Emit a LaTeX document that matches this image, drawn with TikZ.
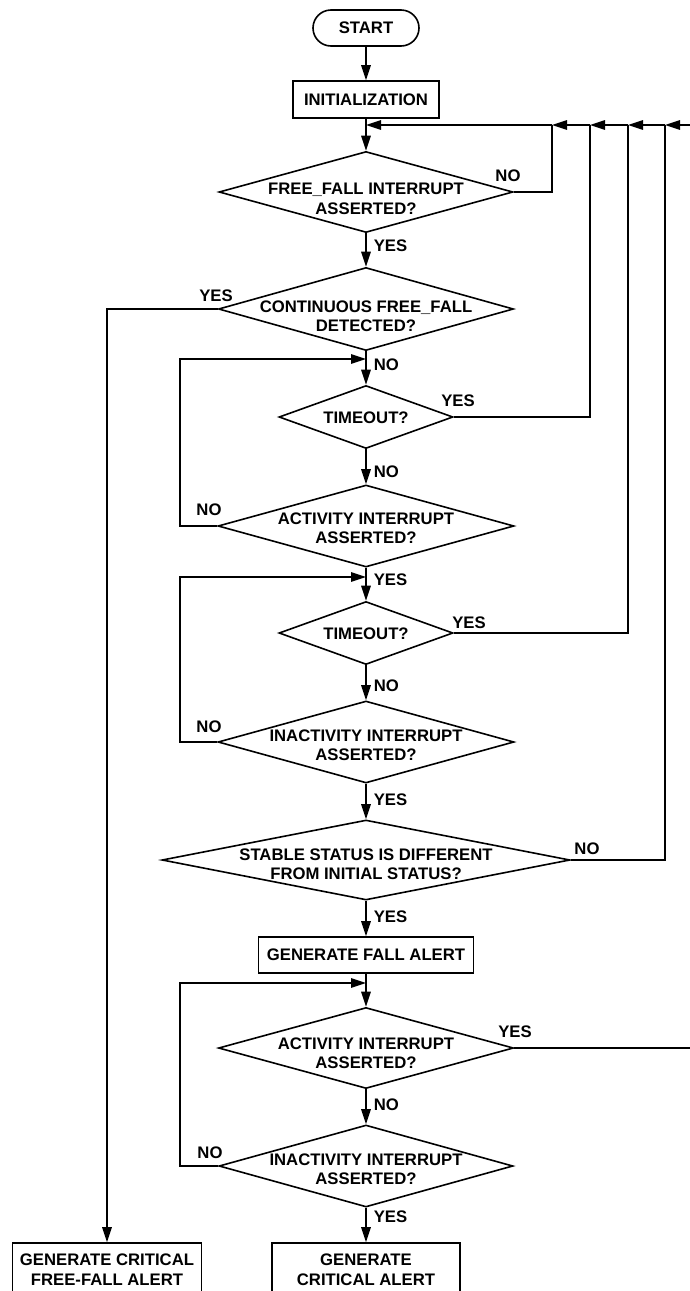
\documentclass[tikz,border=0pt]{standalone}
\usepackage{fontspec}
\setmainfont{Liberation Sans}
\usetikzlibrary{shapes.geometric,arrows.meta}
\begin{document}
\begin{tikzpicture}[x=1pt,y=-1pt,
  line width=1.6pt,
  txt/.style={font=\fontsize{16.7}{19.5}\selectfont\bfseries, align=center, inner sep=0pt},
  lbl/.style={font=\fontsize{16.7}{19}\selectfont\bfseries, inner sep=0pt},
  dec/.style={diamond, draw, line width=1.6pt, inner sep=0pt, minimum width=#1},
  dh/.style={minimum height=#1},
  box/.style={rectangle, draw, line width=1.6pt, inner sep=0pt},
  arr/.style={-{Triangle[length=15pt,width=9.5pt]}},
]
\useasboundingbox (0,0) rectangle (690,1291);
\clip (0,0) rectangle (690,1291);

% ---- process boxes ----
\node[box, txt, rounded corners=18pt, minimum width=106pt, minimum height=36pt] (start) at (366,28) {START};
\node[box, txt, minimum width=146pt, minimum height=37pt] (init) at (366,99.5) {INITIALIZATION};
\node[box, txt, minimum width=215pt, minimum height=36pt] (fall) at (366,955) {GENERATE FALL ALERT};
\node[box, txt, minimum width=189pt, minimum height=53pt] (critff) at (107,1269.5) {GENERATE CRITICAL\\FREE-FALL ALERT};
\node[box, txt, minimum width=188pt, minimum height=53pt] (crit) at (366,1269.5) {GENERATE\\CRITICAL ALERT};

% ---- decisions ----
\node[dec=294pt, dh=81pt] (ff) at (366,192) {};
\node[txt] (fft) at (366,199) {FREE\_FALL INTERRUPT\\ASSERTED?};
\node[dec=295pt, dh=83pt] (cont) at (366,309) {};
\node[txt] (contt) at (366,316) {CONTINUOUS FREE\_FALL\\DETECTED?};
\node[dec=174pt, dh=63pt] (t1) at (366,417) {};
\node[txt] (t1t) at (366,418) {TIMEOUT?};
\node[dec=296pt, dh=82pt] (act1) at (366,526) {};
\node[txt] (act1t) at (366,528) {ACTIVITY INTERRUPT\\ASSERTED?};
\node[dec=174pt, dh=63pt] (t2) at (366,633) {};
\node[txt] (t2t) at (366,634) {TIMEOUT?};
\node[dec=296pt, dh=82pt] (inact1) at (366,742) {};
\node[txt] (inact1t) at (366,745) {INACTIVITY INTERRUPT\\ASSERTED?};
\node[dec=408pt, dh=80pt] (stable) at (366,860) {};
\node[txt] (stablet) at (366,864) {STABLE STATUS IS DIFFERENT\\FROM INITIAL STATUS?};
\node[dec=295pt, dh=81pt] (act2) at (366,1048) {};
\node[txt] (act2t) at (366,1053) {ACTIVITY INTERRUPT\\ASSERTED?};
\node[dec=294pt, dh=82pt] (inact2) at (366,1166) {};
\node[txt] (inact2t) at (366,1169) {INACTIVITY INTERRUPT\\ASSERTED?};

% ---- junctions of the return bus ----
\coordinate (jin) at (366,125);
\coordinate (j1) at (552,125);
\coordinate (j2) at (590,125);
\coordinate (j3) at (628,125);
\coordinate (j4) at (665,125);
\coordinate (jr) at (700,125);
\coordinate (l1) at (366,359);
\coordinate (l2) at (366,577);
\coordinate (l3) at (366,983);

% ---- main flow ----
\draw[arr] (start) -- (init);
\draw[arr] (init) -- (ff);
\draw[arr] (ff) -- (cont);
\draw[arr] (cont) -- (t1);
\draw[arr] (t1) -- (act1);
\draw[arr] (act1) -- (t2);
\draw[arr] (t2) -- (inact1);
\draw[arr] (inact1) -- (stable);
\draw[arr] (stable) -- (fall);
\draw[arr] (fall) -- (act2);
\draw[arr] (act2) -- (inact2);
\draw[arr] (inact2) -- (crit);
\draw[arr] (cont.west) -| (critff.north);

% ---- return bus ----
\draw[arr] (j1) -- (jin);
\draw[arr] (j2) -- (j1);
\draw[arr] (j3) -- (j2);
\draw[arr] (j4) -- (j3);
\draw[arr] (act2.east) -- (act2.east -| jr) -- (jr) -- (j4);
\draw (ff.east) -| (j1);
\draw (t1.east) -| (j2);
\draw (t2.east) -| (j3);
\draw (stable.east) -| (j4);

% ---- wait loops ----
\draw[arr] (act1.west) -- (180,526) -- (180,359) -- (l1);
\draw[arr] (inact1.west) -- (180,742) -- (180,577) -- (l2);
\draw[arr] (inact2.west) -- (180,1166) -- (180,983) -- (l3);

% ---- branch labels ----
\node[lbl, anchor=west] (y1) at (373,246) {YES};
\node[lbl, anchor=west] (n1) at (373,365) {NO};
\node[lbl, anchor=west] (n2) at (373,472) {NO};
\node[lbl, anchor=west] (y2) at (373,580) {YES};
\node[lbl, anchor=west] (n3) at (373,686) {NO};
\node[lbl, anchor=west] (y3) at (373,800) {YES};
\node[lbl, anchor=west] (y4) at (373,917) {YES};
\node[lbl, anchor=west] (n4) at (373,1105) {NO};
\node[lbl, anchor=west] (y5) at (373,1217) {YES};
\node[lbl] (n5) at (508,176) {NO};
\node[lbl] (y6) at (216,296) {YES};
\node[lbl] (y7) at (458,401) {YES};
\node[lbl] (n6) at (209,510) {NO};
\node[lbl] (y8) at (469,623) {YES};
\node[lbl] (n7) at (209,727) {NO};
\node[lbl] (n8) at (587,849) {NO};
\node[lbl] (y9) at (515,1032) {YES};
\node[lbl] (n9) at (210,1153) {NO};
\end{tikzpicture}
\end{document}
